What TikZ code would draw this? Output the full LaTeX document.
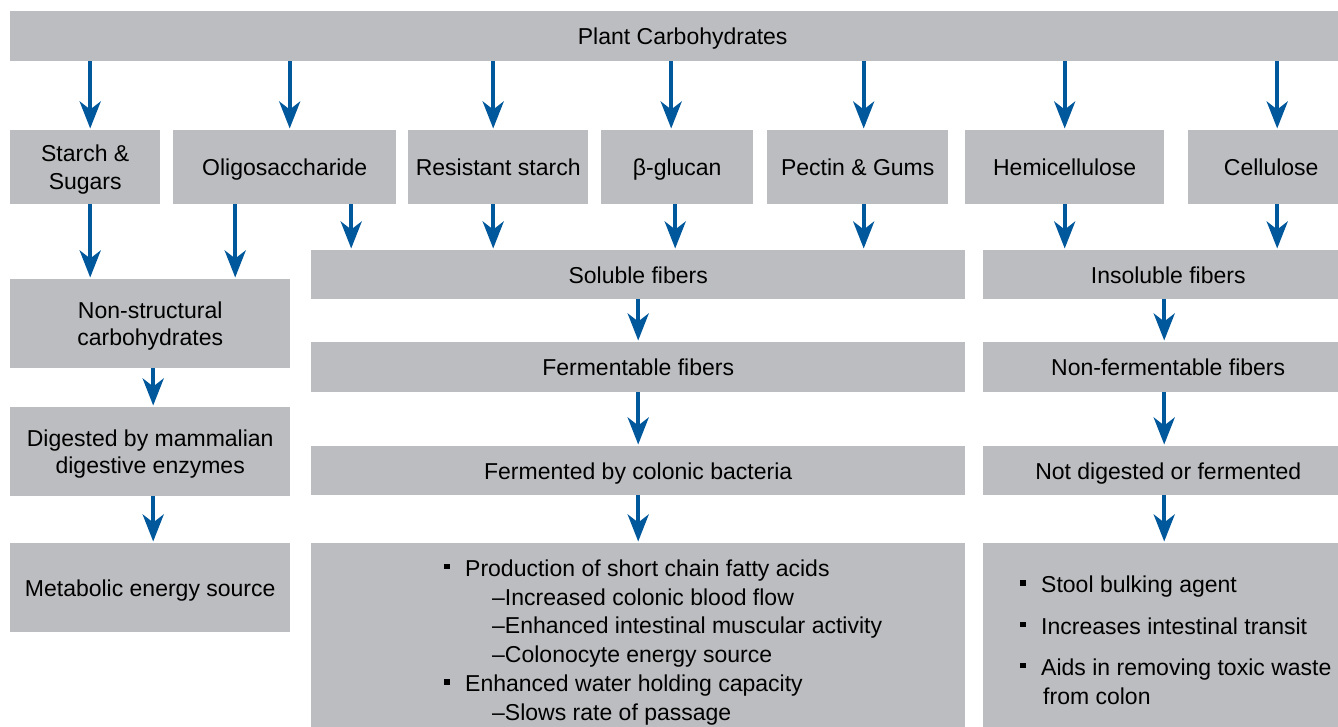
\documentclass[tikz,border=0pt]{standalone}
\usepackage{fontspec}
\setmainfont{Liberation Sans}
\usepackage{tikz}
\usetikzlibrary{arrows.meta, calc, positioning}
\definecolor{boxGray}{HTML}{BCBDC0}
\definecolor{arrowB}{HTML}{00589C}

\newcommand{\sqBullet}{\makebox[21pt][l]{\rule[7pt]{5.5pt}{5.5pt}}}

\tikzset{
  carbBox/.style = {fill = boxGray, inner sep = 0pt, align = center, anchor = north west,
    text depth = 0pt, font = \fontsize{23}{27.5}\selectfont},
  listText/.style = {inner sep = 0pt, align = left, anchor = north west,
    font = \fontsize{23}{28.8}\selectfont},
  flowArrow/.style = {arrowB, line width = 4pt,
    -{Stealth[length = 27pt, width = 21pt, inset = 8pt]}, shorten >= 1.5pt},
}

\begin{document}
\begin{tikzpicture}[x = 1pt, y = -1pt]
  \def\rowTwoTop{130}
  \def\rowTwoH{74}

  \useasboundingbox (0, 0) rectangle (1338, 727);

  % ------------------------
  % boxes
  % ------------------------

  \node[carbBox, minimum width = 1345pt, minimum height = 50pt] (plant) at (10, 11) {Plant Carbohydrates};

  \node[carbBox, minimum width = 150pt, minimum height = \rowTwoH pt] (starch) at (10, \rowTwoTop) {Starch \&\\Sugars};
  \node[carbBox, minimum width = 223pt, minimum height = \rowTwoH pt] (oligo) at (173, \rowTwoTop) {Oligosaccharide};
  \node[carbBox, minimum width = 180pt, minimum height = \rowTwoH pt] (resist) at (408, \rowTwoTop) {Resistant starch};
  \node[carbBox, minimum width = 152pt, minimum height = \rowTwoH pt] (glucan) at (601, \rowTwoTop) {β-glucan};
  \node[carbBox, minimum width = 181pt, minimum height = \rowTwoH pt] (pectin) at (767, \rowTwoTop) {Pectin \& Gums};
  \node[carbBox, minimum width = 199pt, minimum height = \rowTwoH pt] (hemi) at (965, \rowTwoTop) {Hemicellulose};
  \node[carbBox, minimum width = 166pt, minimum height = \rowTwoH pt] (cellu) at (1188, \rowTwoTop) {Cellulose};

  \node[carbBox, minimum width = 280pt, minimum height = 89pt] (nonStruct) at (10, 279) {Non-structural\\carbohydrates};
  \node[carbBox, minimum width = 280pt, minimum height = 89pt] (digested) at (10, 407) {Digested by mammalian\\digestive enzymes};
  \node[carbBox, minimum width = 280pt, minimum height = 89pt] (metabolic) at (10, 543) {Metabolic energy source};

  \node[carbBox, minimum width = 654pt, minimum height = 49pt] (soluble) at (311, 250) {Soluble fibers};
  \node[carbBox, minimum width = 654pt, minimum height = 50pt] (ferm) at (311, 342) {Fermentable fibers};
  \node[carbBox, minimum width = 654pt, minimum height = 49pt] (fermented) at (311, 446) {Fermented by colonic bacteria};
  \node[carbBox, minimum width = 654pt, minimum height = 200pt] (fermList) at (311, 543) {};

  \node[carbBox, minimum width = 370pt, minimum height = 49pt] (insoluble) at (983, 250) {Insoluble fibers};
  \node[carbBox, minimum width = 370pt, minimum height = 50pt] (nonFerm) at (983, 342) {Non-fermentable fibers};
  \node[carbBox, minimum width = 370pt, minimum height = 49pt] (notDig) at (983, 446) {Not digested or fermented};
  \node[carbBox, minimum width = 370pt, minimum height = 200pt] (nonFermList) at (983, 543) {};

  % ------------------------
  % bullet lists
  % ------------------------

  \node[listText] (fermText) at (444, 559.5) {%
    \sqBullet Production of short chain fatty acids\\
    \hspace*{48pt}–Increased colonic blood flow\\
    \hspace*{48pt}–Enhanced intestinal muscular activity\\
    \hspace*{48pt}–Colonocyte energy source\\
    \sqBullet Enhanced water holding capacity\\
    \hspace*{48pt}–Slows rate of passage};

  \node[listText] (nonFermText) at (1020, 576) {%
    \sqBullet Stool bulking agent\\[12.5pt]
    \sqBullet Increases intestinal transit\\[12.5pt]
    \sqBullet Aids in removing toxic waste\\
    \hspace*{23pt}from colon};

  % ------------------------
  % arrows
  % ------------------------

  \draw[flowArrow] ([xshift = 5pt]starch.north |- plant.south) to ([xshift = 5pt]starch.north);
  \draw[flowArrow] ([xshift = 5pt]oligo.north |- plant.south) to ([xshift = 5pt]oligo.north);
  \draw[flowArrow] ([xshift = -5pt]resist.north |- plant.south) to ([xshift = -5pt]resist.north);
  \draw[flowArrow] ([xshift = -6pt]glucan.north |- plant.south) to ([xshift = -6pt]glucan.north);
  \draw[flowArrow] ([xshift = 6pt]pectin.north |- plant.south) to ([xshift = 6pt]pectin.north);
  \draw[flowArrow] (hemi.north |- plant.south) to (hemi.north);
  \draw[flowArrow] ([xshift = 6pt]cellu.north |- plant.south) to ([xshift = 6pt]cellu.north);

  \draw[flowArrow] ([xshift = 5pt]starch.south) to ([xshift = 5pt]starch.south |- nonStruct.north);
  \draw[flowArrow] ([xshift = -49.5pt]oligo.south) to ([xshift = -49.5pt]oligo.south |- nonStruct.north);
  \draw[flowArrow] ([xshift = 66.5pt]oligo.south) to ([xshift = 66.5pt]oligo.south |- soluble.north);
  \draw[flowArrow] ([xshift = -5pt]resist.south) to ([xshift = -5pt]resist.south |- soluble.north);
  \draw[flowArrow] ([xshift = -2pt]glucan.south) to ([xshift = -2pt]glucan.south |- soluble.north);
  \draw[flowArrow] ([xshift = 6pt]pectin.south) to ([xshift = 6pt]pectin.south |- soluble.north);
  \draw[flowArrow] (hemi.south) to (hemi.south |- insoluble.north);
  \draw[flowArrow] ([xshift = 6pt]cellu.south) to ([xshift = 6pt]cellu.south |- insoluble.north);

  \draw[flowArrow] ([xshift = 3pt]nonStruct.south) to ([xshift = 3pt]digested.north);
  \draw[flowArrow] ([xshift = 3pt]digested.south) to ([xshift = 3pt]metabolic.north);

  \draw[flowArrow] (soluble.south) to (ferm.north);
  \draw[flowArrow] (ferm.south) to (fermented.north);
  \draw[flowArrow] (fermented.south) to (fermList.north);

  \draw[flowArrow] ([xshift = -4pt]insoluble.south) to ([xshift = -4pt]nonFerm.north);
  \draw[flowArrow] ([xshift = -4pt]nonFerm.south) to ([xshift = -4pt]notDig.north);
  \draw[flowArrow] ([xshift = -4pt]notDig.south) to ([xshift = -4pt]nonFermList.north);
\end{tikzpicture}
\end{document}
